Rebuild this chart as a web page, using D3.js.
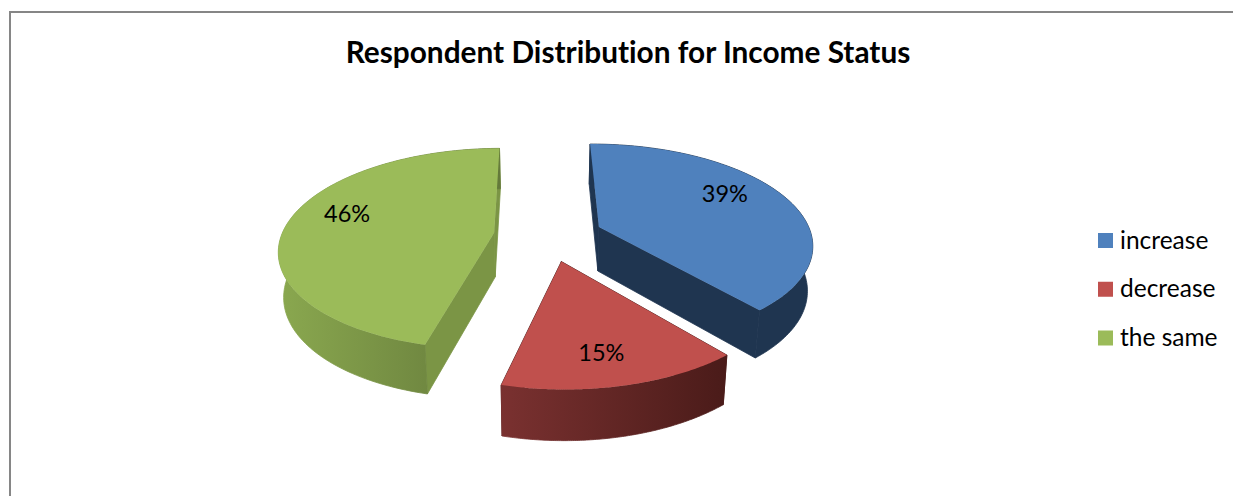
<!DOCTYPE html>
<html>
<head>
<meta charset="utf-8">
<script src="https://cdn.jsdelivr.net/npm/d3@7/dist/d3.min.js"></script>
<style>
  html, body { margin: 0; padding: 0; background: #fff; }
  svg { display: block; }
  text { font-variant-ligatures: none; }
</style>
</head>
<body>
<svg id="chart" width="1233" height="496"></svg>
<script>
// Income status shares
const categories = ["increase", "decrease", "the same"];
const shares = [39, 15, 46];
const topColors = ["#4F81BD", "#C0504D", "#9BBB59"];

const fontFamily = "Lato, 'Open Sans', sans-serif";

const svg = d3.select("#chart");
const defs = svg.append("defs");

// Perspective model of the pie plane. Points on the plane are given in
// world units (wx, depth) and mapped to the screen via a vanishing point.
const vanishX = 545.5, vanishY = -390;
const radius = 0.34;          // pie radius in world units
const depthScale = 0.000741;  // inverse-screen-distance per world unit
const centerX = 0.0045, centerDepth = 0.001598;
const explode = 0.0875;       // how far slices are pulled from the centre
const firstAngle = -0.009;    // slight rotation of the first slice, radians

function project(wx, depth) {
  const d = 1 / depth;
  return [vanishX + d * wx, vanishY + d];
}

// Bottom rim of the extruded pie: slightly narrower and lower than the top.
function drop([x, y]) {
  return [vanishX + (x - vanishX) * 0.98, y + 16.4 + 0.0446 * (y - vanishY)];
}

const slices = d3.pie().sort(null).value(d => d)
  .startAngle(firstAngle).endAngle(firstAngle + 2 * Math.PI)(shares);

function apexOf(s) {
  const mid = (s.startAngle + s.endAngle) / 2;
  return [centerX + explode * Math.sin(mid), centerDepth + explode * depthScale * Math.cos(mid)];
}

function rimPoint(s, angle) {
  const [ax, ad] = apexOf(s);
  return project(ax + radius * Math.sin(angle), ad + radius * depthScale * Math.cos(angle));
}

function rimPoints(s) {
  return d3.range(0, 121).map(i => rimPoint(s, s.startAngle + (s.endAngle - s.startAngle) * i / 120));
}

const line = d3.line();

// Wall shading runs left to right across the outer face of each slice
const wallStyles = [
  { stops: ["#1F3550", "#1F3550"], radial: "#1F3550" },
  { stops: ["#7A3130", "#4A1B19"], radial: "#4A1B19" },
  { stops: ["#8AA84F", "#64793A"], radial: "#7B9545" }
];

slices.forEach((s, i) => {
  const rim = rimPoints(s);
  const x = d3.extent(rim, p => p[0]);
  const grad = defs.append("linearGradient")
    .attr("id", "wall" + i)
    .attr("gradientUnits", "userSpaceOnUse")
    .attr("x1", x[0]).attr("x2", x[1]).attr("y1", 0).attr("y2", 0);
  grad.append("stop").attr("offset", 0).attr("stop-color", wallStyles[i].stops[0]);
  grad.append("stop").attr("offset", 1).attr("stop-color", wallStyles[i].stops[1]);

  const apex = project(...apexOf(s));
  const g = svg.append("g").attr("class", "slice");

  // Radial walls
  [rim[0], rim[rim.length - 1]].forEach(end => {
    g.append("path")
      .attr("d", line([apex, end, drop(end), drop(apex)]) + "Z")
      .attr("fill", wallStyles[i].radial)
      .attr("stroke", wallStyles[i].radial)
      .attr("stroke-width", 0.8);
  });

  // Outer curved wall
  g.append("path")
    .attr("d", line(rim.concat(rim.map(drop).reverse())) + "Z")
    .attr("fill", `url(#wall${i})`)
    .attr("stroke", `url(#wall${i})`)
    .attr("stroke-width", 0.8);

  // Top face
  g.append("path")
    .attr("d", line([apex].concat(rim)) + "Z")
    .attr("fill", topColors[i]);
});

// Value labels, placed relative to each slice's apex
const labelOffsets = [[126, -34], [40, 90], [-147, -20]];
slices.forEach((s, i) => {
  const apex = project(...apexOf(s));
  svg.append("text")
    .attr("x", apex[0] + labelOffsets[i][0])
    .attr("y", apex[1] + labelOffsets[i][1] + 9)
    .attr("text-anchor", "middle")
    .attr("font-family", fontFamily)
    .attr("font-size", 23.5)
    .attr("fill", "#000")
    .text(d3.format(".0f")(shares[i]) + "%");
});

// Chart frame
svg.append("path")
  .attr("d", "M10 496V12H1233")
  .attr("fill", "none")
  .attr("stroke", "#868686")
  .attr("stroke-width", 2);

// Title
svg.append("text")
  .attr("x", 628).attr("y", 63)
  .attr("text-anchor", "middle")
  .attr("font-family", fontFamily)
  .attr("font-weight", 700)
  .attr("font-size", 29.8)
  .attr("fill", "#000")
  .text("Respondent Distribution for Income Status");

// Legend
const legendY = d3.scalePoint().domain(categories).range([240.5, 338]);
const legend = svg.append("g").selectAll("g").data(categories).join("g");
legend.append("rect")
  .attr("x", 1098)
  .attr("y", d => legendY(d) - 7.5)
  .attr("width", 15).attr("height", 15)
  .attr("fill", (d, i) => topColors[i]);
legend.append("text")
  .attr("x", 1120)
  .attr("y", d => legendY(d) + 8)
  .attr("font-family", fontFamily)
  .attr("font-size", 24.5)
  .attr("fill", "#000")
  .text(d => d);
</script>
</body>
</html>
